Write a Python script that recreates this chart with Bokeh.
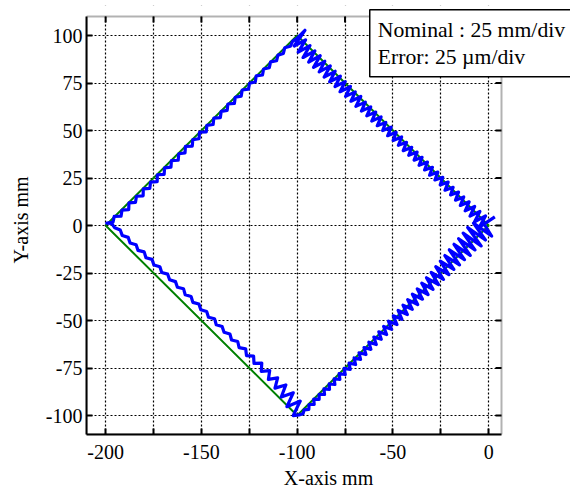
import numpy as np
from bokeh.plotting import figure
from bokeh.models import Range1d, FixedTicker, Label, BoxAnnotation
from bokeh.embed import file_html
from bokeh.resources import INLINE

# Nominal (commanded) diamond path, mm
nom_x = [-200, -100, 0, -100, -200]
nom_y = [0, 100, 0, -100, 0]

# Measured error perpendicular to each edge (um, + = outward), sampled along the edge
err_LT = [0.5, -1.5, 0.2, -2.2, -0.3, -2.6, -0.2, -2.4, -0.5, -2.8, -0.3, -2.5, -0.4, -2.7, -0.2, -2.6,
          -0.3, -2.4, -0.1, -2.5, -0.3, -2.3, 0.0, -2.4, -0.2, -2.2, 0.1, -2.3, -0.1, -2.1, 0.0, -2.2,
          -0.2, -2.0, 0.1, -2.1, -0.1, -1.9, 0.0, -2.0, -0.2, -1.8, 0.1, -1.9, -0.1, -1.7, 0.0, -1.8,
          -0.2, -1.6, 0.0, -1.5, -0.5, -1.0]
err_TR = [4.8, -5.0, 1.5, -5.8, 1.0, -6.0, 0.8, -5.6, 1.0, -5.8, 0.6, -5.4, 0.9, -5.5, 0.7, -5.2,
          0.8, -5.0, 0.6, -5.1, 0.7, -4.8, 0.5, -4.6, 0.8, -4.7, 0.4, -4.4, 0.6, -4.2, 0.5, -4.3,
          0.7, -4.0, 0.4, -3.8, 0.6, -3.9, 0.5, -3.6, 0.8, -3.5, 0.6, -3.7, 0.7, -3.4, 0.9, -3.2,
          0.8, -3.3, 1.0, -3.0, 0.9, -3.1, 1.1, -2.9, 1.0, -2.8, 1.2, -3.0, 1.1, -2.7, 1.3, -2.8,
          1.4, -3.0, 1.6, -3.2, 1.9, -3.4, 2.0, -3.8, 2.4, -4.0, 5.5]
err_RB = [-3.0, 5.0, -6.5, 4.2, -7.0, 4.8, -6.6, 4.0, -6.2, 4.3, -5.8, 3.8, -5.5, 3.9, -5.0, 3.5,
          -4.6, 3.6, -4.2, 3.4, -3.8, 3.5, -3.5, 3.2, -3.2, 3.3, -2.8, 3.0, -2.6, 3.2, -2.3, 3.0,
          -2.0, 3.1, -1.8, 2.9, -1.6, 3.0, -1.4, 2.8, -1.2, 2.9, -1.0, 2.7, -0.9, 2.8, -0.8, 2.6,
          -0.6, 2.7, -0.5, 2.5, -0.4, 2.6, -0.3, 2.4, -0.2, 2.5, -0.1, 2.3, 0.0, 2.4, 0.1, 2.2,
          0.0, 2.3, 0.2, 2.1, 0.0, 2.2, 0.3, 2.0, 0.5, 1.5, 0.5]
err_BL = [1.5, -6.5, 0.5, -7.0, -1.0, -7.2, -2.0, -6.8, -2.8, -6.6, -3.2, -6.4, -3.5, -6.0, -3.6, -5.8,
          -3.8, -5.6, -3.9, -5.5, -4.0, -5.4, -3.9, -5.5, -3.8, -5.3, -3.8, -5.2, -3.6, -5.1, -3.6, -5.2,
          -3.5, -4.9, -3.4, -4.8, -3.2, -4.7, -3.1, -4.5, -2.9, -4.4, -2.7, -4.1, -2.5, -3.9, -2.4, -3.7,
          -2.5, -3.0]

x_ticks = [-200, -175, -150, -125, -100, -75, -50, -25, 0]
y_ticks = [-100, -75, -50, -25, 0, 25, 50, 75, 100]

# axes box limits (data units)
X_LO, X_HI = -210, 6.7
Y_LO, Y_HI = -110, 110

ERR_SCALE = 1.0  # 25 um/div error plotted on 25 mm/div grid -> 1 um shown as 1 mm


def edge_trace(i0, i1, errs):
    p0 = np.array([nom_x[i0], nom_y[i0]], float)
    p1 = np.array([nom_x[i1], nom_y[i1]], float)
    d = (p1 - p0) / np.linalg.norm(p1 - p0)
    n = np.array([-d[1], d[0]])  # outward normal for this traversal direction
    e = np.asarray(errs, float) * ERR_SCALE
    f = (np.arange(len(e)) + 0.5) / len(e)
    pts = p0[None, :] + f[:, None] * (p1 - p0)[None, :] + e[:, None] * n[None, :]
    return pts[:, 0], pts[:, 1]


segs = [edge_trace(2, 3, err_RB), edge_trace(3, 4, err_BL),
        edge_trace(0, 1, err_LT), edge_trace(1, 2, err_TR)]
act_x = np.concatenate([s[0] for s in segs])
act_y = np.concatenate([s[1] for s in segs])

FONT = "Liberation Serif"

W, H = 570, 497
BORDER_L, BORDER_T, BORDER_B = 86, 5, 63
FRAME_W = W - BORDER_L
FRAME_H = H - BORDER_T - BORDER_B
SX = 415 / (X_HI - X_LO)   # px per mm (x)
SY = 418 / (Y_HI - Y_LO)   # px per mm (y)

p = figure(width=W, height=H, output_backend="svg", toolbar_location=None,
           x_range=Range1d(X_LO, X_LO + FRAME_W / SX),
           y_range=Range1d(Y_LO, Y_LO + FRAME_H / SY),
           min_border_left=BORDER_L, min_border_right=0,
           min_border_top=BORDER_T, min_border_bottom=BORDER_B,
           background_fill_color="white", border_fill_color="white")
p.outline_line_color = None

for g in (p.xgrid[0], p.ygrid[0]):
    g.grid_line_color = "black"
    g.grid_line_dash = "2 2"
    g.grid_line_width = 1.2
    g.grid_line_alpha = 1.0

# blank the area outside the axes box (covers grid lines there)
p.add_layout(BoxAnnotation(bottom=Y_HI, fill_color="white", fill_alpha=1, line_alpha=0, level="underlay"))
p.add_layout(BoxAnnotation(left=X_HI, fill_color="white", fill_alpha=1, line_alpha=0, level="underlay"))

p.line(nom_x, nom_y, line_color="#008000", line_width=2)
p.line(act_x, act_y, line_color="#0000FF", line_width=3.2, line_join="round")

xa = p.xaxis[0]
xa.ticker = FixedTicker(ticks=x_ticks)
xa.major_label_overrides = {t: (str(t) if t % 50 == 0 else "") for t in x_ticks}
xa.bounds = (X_LO, X_HI)
ya = p.yaxis[0]
ya.ticker = FixedTicker(ticks=y_ticks)
ya.major_label_overrides = {t: str(t) for t in y_ticks}
ya.bounds = (Y_LO, Y_HI)

for ax in (xa, ya):
    ax.axis_line_width = 2
    ax.major_tick_in = 6
    ax.major_tick_out = 0
    ax.major_tick_line_width = 2
    ax.minor_tick_line_color = None
    ax.major_label_text_font = FONT
    ax.major_label_text_font_size = "20px"
    ax.major_label_text_color = "black"
    ax.axis_label_text_font = FONT
    ax.axis_label_text_font_size = "20px"
    ax.axis_label_text_font_style = "normal"
    ax.axis_label_text_color = "black"

xa.axis_label = "X-axis mm"
ya.axis_label = "Y-axis mm"
xa.major_label_standoff = 10
ya.major_label_standoff = 4
xa.axis_label_standoff = 5
ya.axis_label_standoff = 11

# inward ticks on the top and right sides of the axes box
p.ray(x=x_ticks, y=Y_HI, length=6, length_units="screen", angle=-np.pi / 2,
      line_color="black", line_width=2)
p.ray(x=X_HI, y=y_ticks, length=6, length_units="screen", angle=np.pi,
      line_color="black", line_width=2)

# axes box outline
p.add_layout(BoxAnnotation(left=X_LO, right=X_HI, bottom=Y_LO, top=Y_HI,
                           fill_alpha=0, line_color="black", line_width=2, level="annotation"))

# text box
box = Label(x=-62.1, y=113.5, x_units="data", y_units="data",
            text="Nominal : 25 mm/div\nError: 25 µm/div", anchor="top_left",
            text_font=FONT, text_font_size="21.7px", text_color="black",
            text_line_height=1.12, padding=8,
            border_line_color="black", border_line_width=1.5,
            background_fill_color="white", background_fill_alpha=1.0, level="overlay")
p.add_layout(box)

open("out.html", "w").write(file_html(p, INLINE))
